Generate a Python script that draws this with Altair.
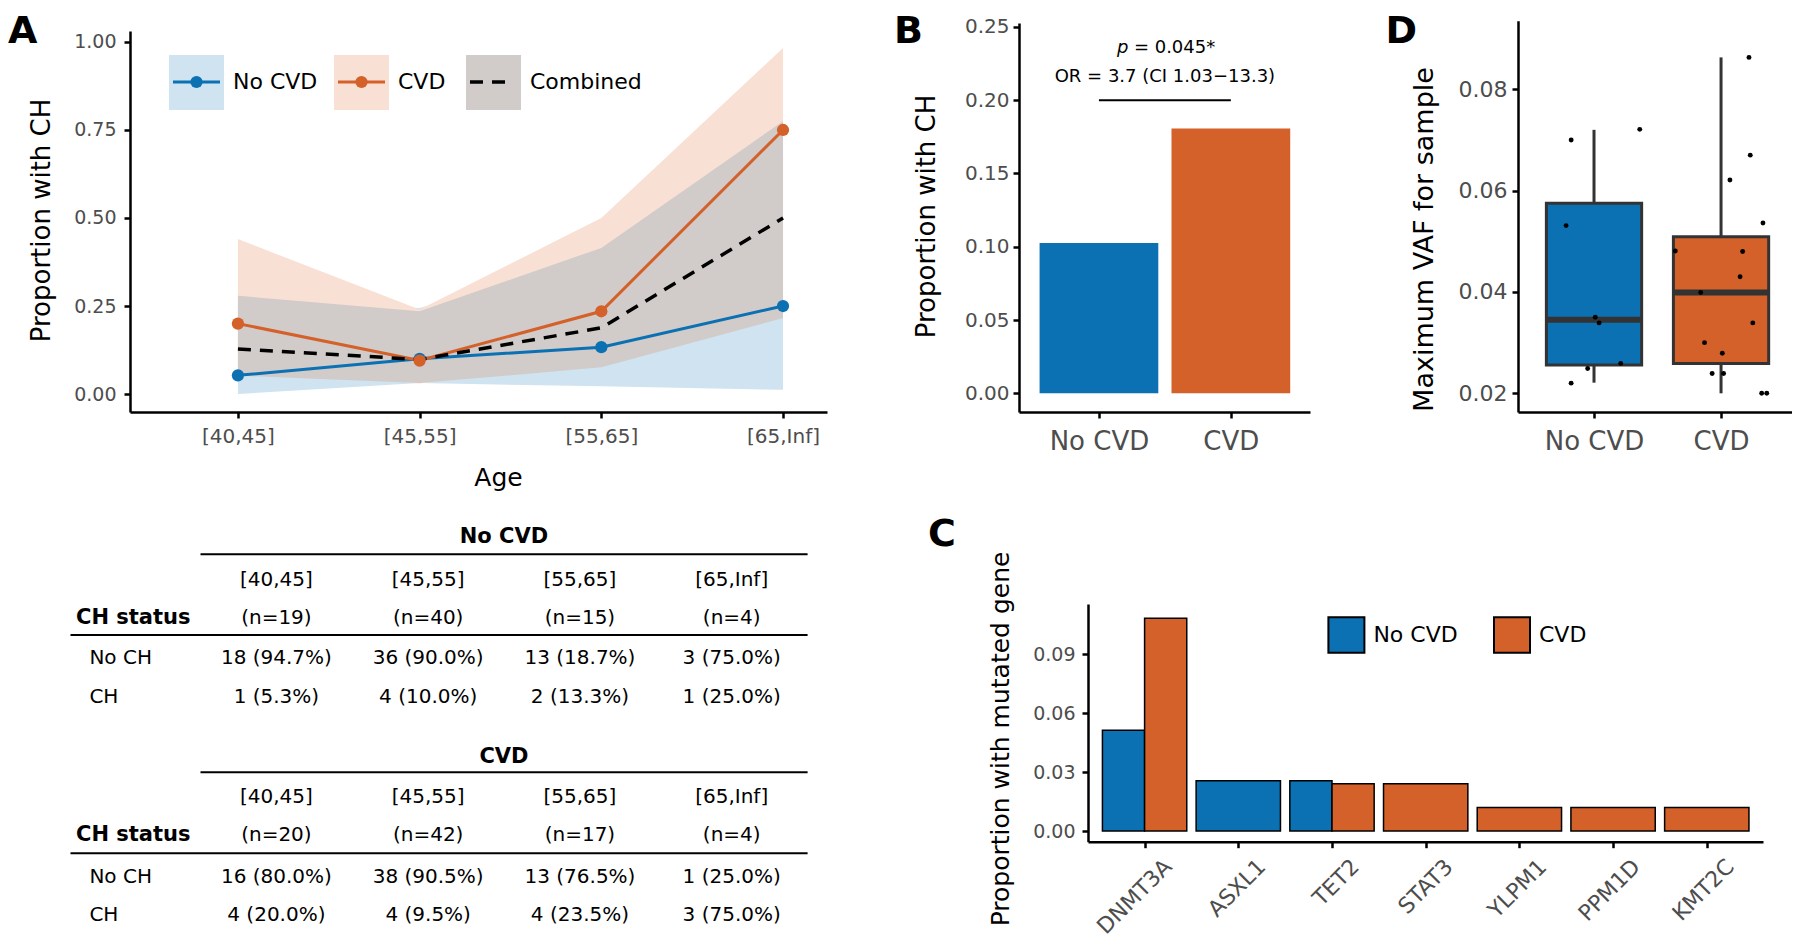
import altair as alt
import pandas as pd

FONT = "DejaVu Sans"
BLUE, ORANGE = "#0b71b3", "#d4602a"
BLUE_L, ORANGE_L, GRAY_L = "#cfe3f0", "#f8e0d4", "#d1cbc9"
DARK = "#333333"
LAB = "#4d4d4d"

# ---------------- data ----------------
groups = ["No CVD", "CVD"]
ages = ["[40,45]", "[45,55]", "[55,65]", "[65,Inf]"]
panel_letters = ["A", "B", "C", "D"]

# Panel A: proportion with CH by age, with confidence ribbons
nocvd_prop = [0.053, 0.100, 0.133, 0.250]
nocvd_lo = [0.000, 0.031, 0.022, 0.012]
nocvd_hi = [0.260, 0.244, 0.380, 0.700]
cvd_prop = [0.200, 0.095, 0.235, 0.750]
cvd_lo = [0.080, 0.030, 0.090, 0.300]
cvd_hi = [0.440, 0.240, 0.500, 0.983]
comb_prop = [0.128, 0.098, 0.188, 0.500]
comb_lo = [0.052, 0.031, 0.076, 0.216]
comb_hi = [0.279, 0.235, 0.415, 0.775]
legend_a = ["No CVD", "CVD", "Combined"]

# Panel B
b_prop = [0.1026, 0.1807]
b_p_text = "= 0.045*"
b_or_text = "OR = 3.7 (CI 1.03\u221213.3)"
b_bracket = 0.20

# Panel D: box stats and points
d_lo = [0.0221, 0.0200]
d_q1 = [0.0256, 0.0259]
d_med = [0.0345, 0.0399]
d_q3 = [0.0575, 0.0509]
d_hi = [0.0720, 0.0863]
nocvd_vaf = [0.0700, 0.0721, 0.0531, 0.0350, 0.0339, 0.0259, 0.0249, 0.0220]
nocvd_jit = [-0.18, 0.36, -0.22, 0.01, 0.04, 0.21, -0.05, -0.18]
cvd_vaf = [0.0863, 0.0670, 0.0621, 0.0536, 0.0481, 0.0480, 0.0430, 0.0399,
           0.0339, 0.0300, 0.0279, 0.0239, 0.0239, 0.0200, 0.0200]
cvd_jit = [0.22, 0.23, 0.07, 0.33, -0.36, 0.17, 0.15, -0.16,
           0.25, -0.13, 0.01, -0.07, 0.02, 0.32, 0.36]

# Panel C
genes = ["DNMT3A", "ASXL1", "TET2", "STAT3", "YLPM1", "PPM1D", "KMT2C"]
c_nocvd = [0.0513, 0.0256, 0.0256, 0.0, 0.0, 0.0, 0.0]
c_cvd = [0.1084, 0.0, 0.0241, 0.0241, 0.0120, 0.0120, 0.0120]

# Tables
nocvd_n = [19, 40, 15, 4]
nocvd_noch = [18, 36, 13, 3]
nocvd_noch_pct = [94.7, 90.0, 18.7, 75.0]
nocvd_ch = [1, 4, 2, 1]
nocvd_ch_pct = [5.3, 10.0, 13.3, 25.0]
cvd_n = [20, 42, 17, 4]
cvd_noch = [16, 38, 13, 1]
cvd_noch_pct = [80.0, 90.5, 76.5, 25.0]
cvd_ch = [4, 4, 4, 3]
cvd_ch_pct = [20.0, 9.5, 23.5, 75.0]
row_labels = ["CH status", "No CH", "CH"]

# ---------------- canvas ----------------
W, H = 1784, 920          # one big view; every panel has its own scales placed by pixel range
one = pd.DataFrame({"k": [0]})


def arr_expr(lst):
    return "[" + ",".join("'" + s + "'" for s in lst) + "][datum.value - 1]"


def letter(t, x, y):
    return alt.Chart(pd.DataFrame({"t": [t]})).mark_text(
        align="left", baseline="top", fontSize=38, fontWeight="bold", color="black"
    ).encode(text="t:N", x=alt.value(x), y=alt.value(y))


def vtext(t, x, y, size, align="left", weight="normal", color="black"):
    return alt.Chart(pd.DataFrame({"t": [t]})).mark_text(
        align=align, baseline="middle", fontSize=size, fontWeight=weight, color=color
    ).encode(text="t:N", x=alt.value(x), y=alt.value(y))


def vrect(x1, x2, y1, y2, **kw):
    return alt.Chart(one).mark_rect(**kw).encode(
        x=alt.value(x1), x2=alt.value(x2), y=alt.value(y1), y2=alt.value(y2))


def vrule(x1, x2, y, **kw):
    return alt.Chart(one).mark_rule(**kw).encode(
        x=alt.value(x1), x2=alt.value(x2), y=alt.value(y))


def xaxis(y_line, **kw):
    base = dict(orient="bottom", offset=y_line - H, labelFlush=False, labelOverlap=False)
    base.update(kw)
    return alt.Axis(**base)


def yaxis(x_line, **kw):
    base = dict(orient="left", offset=-x_line, titleAngle=270, titleAlign="center",
                titleBaseline="middle")
    base.update(kw)
    return alt.Axis(**base)


colorG = alt.Color("group:N", scale=alt.Scale(domain=groups, range=[BLUE, ORANGE]), legend=None)

# ---------------- Panel A ----------------
rows = []
for name, p, lo, hi in [("No CVD", nocvd_prop, nocvd_lo, nocvd_hi),
                        ("CVD", cvd_prop, cvd_lo, cvd_hi),
                        ("Combined", comb_prop, comb_lo, comb_hi)]:
    for i in range(len(ages)):
        rows.append({"series": name, "pos": i + 1, "age": ages[i],
                     "prop": p[i], "lo": lo[i], "hi": hi[i]})
a_df = pd.DataFrame(rows)

xA = alt.X("pos:Q", scale=alt.Scale(domain=[0.406, 4.242], range=[122, 819], nice=False, zero=False),
           axis=xaxis(404, values=[1, 2, 3, 4], labelExpr=arr_expr(ages), title="Age",
                      labelFontSize=20, labelPadding=8, titleFontSize=25,
                      titleX=490, titleY=65, titleAlign="center", titleBaseline="middle"))
ysA = alt.Scale(domain=[-0.0511, 1.0312], range=[404, 23], nice=False, zero=False)
yaA = yaxis(122, values=[0, 0.25, 0.5, 0.75, 1.0], format=".2f", title="Proportion with CH",
            labelFontSize=19, labelPadding=8, titleFontSize=26, titleX=-89, titleY=212)


def sel(n):
    return alt.datum.series == n


a_layers = []
for n, c in [("No CVD", BLUE_L), ("CVD", ORANGE_L), ("Combined", GRAY_L)]:
    a_layers.append(alt.Chart(a_df).transform_filter(sel(n)).mark_area(color=c, opacity=1).encode(
        x=xA, y=alt.Y("lo:Q", scale=ysA, axis=yaA), y2="hi:Q"))
for n, c in [("No CVD", BLUE), ("CVD", ORANGE)]:
    a_layers.append(alt.Chart(a_df).transform_filter(sel(n)).mark_line(color=c, strokeWidth=3).encode(
        x=xA, y=alt.Y("prop:Q", scale=ysA, axis=yaA)))
a_layers.append(alt.Chart(a_df).transform_filter(sel("Combined")).mark_line(
    color="black", strokeWidth=3.5, strokeDash=[13, 9]).encode(
    x=xA, y=alt.Y("prop:Q", scale=ysA, axis=yaA)))
for n, c in [("No CVD", BLUE), ("CVD", ORANGE)]:
    a_layers.append(alt.Chart(a_df).transform_filter(sel(n)).mark_circle(size=150, color=c, opacity=1).encode(
        x=xA, y=alt.Y("prop:Q", scale=ysA, axis=yaA)))
chartA = alt.layer(*a_layers)

# legend of A
leg_layers = []
leg_x = [161, 326, 458]
for i, (lab, fill, col) in enumerate(zip(legend_a, [BLUE_L, ORANGE_L, GRAY_L], [BLUE, ORANGE, "black"])):
    x0 = leg_x[i]
    leg_layers.append(vrect(x0, x0 + 55, 47, 102, color=fill))
    if i < 2:
        leg_layers.append(vrule(x0 + 4, x0 + 51, 74, color=col, strokeWidth=3))
        leg_layers.append(alt.Chart(one).mark_circle(size=150, color=col, opacity=1).encode(
            x=alt.value(x0 + 27.5), y=alt.value(74)))
    else:
        leg_layers.append(vrule(x0 + 4, x0 + 48, 74, color=col, strokeWidth=3.5, strokeDash=[13, 9]))
    leg_layers.append(vtext(lab, x0 + 64, 74, 22))

# ---------------- Panel B ----------------
b_df = pd.DataFrame({"group": groups, "pos": [1, 2], "prop": b_prop})
xsB = alt.Scale(domain=[0.394, 2.6], range=[1011, 1302], nice=False, zero=False)
xaB = xaxis(404, values=[1, 2], labelExpr=arr_expr(groups), title=None, labelFontSize=26, labelPadding=10)
ysB = alt.Scale(domain=[-0.01276, 0.2527], range=[404, 15], nice=False, zero=False)
yaB = yaxis(1011, values=[0, 0.05, 0.1, 0.15, 0.2, 0.25], format=".2f", title="Proportion with CH",
            labelFontSize=20, labelPadding=4, titleFontSize=26, titleX=-93, titleY=208)

barsB = alt.Chart(b_df).transform_calculate(
    xa="datum.pos - 0.45", xb="datum.pos + 0.45", base="0").mark_rect().encode(
    x=alt.X("xa:Q", scale=xsB, axis=xaB), x2="xb:Q",
    y=alt.Y("prop:Q", scale=ysB, axis=yaB), y2="base:Q", color=colorG)
br_df = pd.DataFrame({"xa": [min(b_df.pos)], "xb": [max(b_df.pos)], "y": [b_bracket]})
bracket = alt.Chart(br_df).mark_rule(color="black", strokeWidth=2).encode(
    x=alt.X("xa:Q", scale=xsB, axis=xaB), x2="xb:Q", y=alt.Y("y:Q", scale=ysB, axis=yaB))
mid_df = pd.DataFrame({"xa": [b_df.pos.mean()], "p": ["p"], "rest": [b_p_text], "orr": [b_or_text]})
pT = alt.Chart(mid_df).mark_text(fontStyle="italic", align="left", baseline="middle", fontSize=18,
                                 dx=-48, color="black").encode(
    x=alt.X("xa:Q", scale=xsB, axis=xaB), y=alt.value(40), text="p:N")
restT = alt.Chart(mid_df).mark_text(align="left", baseline="middle", fontSize=18, dx=-31,
                                    color="black").encode(
    x=alt.X("xa:Q", scale=xsB, axis=xaB), y=alt.value(40), text="rest:N")
orT = alt.Chart(mid_df).mark_text(align="center", baseline="middle", fontSize=18, color="black").encode(
    x=alt.X("xa:Q", scale=xsB, axis=xaB), y=alt.value(69), text="orr:N")
chartB = alt.layer(barsB, bracket, pT, restT, orT)

# ---------------- Panel D ----------------
xsD = alt.Scale(domain=[0.4016, 2.598], range=[1510, 1789], nice=False, zero=False)
xaD = xaxis(404, values=[1, 2], labelExpr=arr_expr(groups), title=None, labelFontSize=26, labelPadding=10)
ysD = alt.Scale(domain=[0.01631, 0.09354], range=[404, 12.7], nice=False, zero=False)
yaD = yaxis(1510, values=[0.02, 0.04, 0.06, 0.08], format=".2f", title="Maximum VAF for sample",
            labelFontSize=22, labelPadding=5, titleFontSize=27, titleX=-94, titleY=231)
box_df = pd.DataFrame({"group": groups, "pos": [1, 2], "lo": d_lo, "q1": d_q1,
                       "med": d_med, "q3": d_q3, "hi": d_hi})
whHi = alt.Chart(box_df).mark_rule(color=DARK, strokeWidth=3).encode(
    x=alt.X("pos:Q", scale=xsD, axis=xaD), y=alt.Y("q3:Q", scale=ysD, axis=yaD), y2="hi:Q")
whLo = alt.Chart(box_df).mark_rule(color=DARK, strokeWidth=3).encode(
    x=alt.X("pos:Q", scale=xsD, axis=xaD), y=alt.Y("lo:Q", scale=ysD, axis=yaD), y2="q1:Q")
boxD = alt.Chart(box_df).transform_calculate(xa="datum.pos - 0.375", xb="datum.pos + 0.375").mark_rect(
    stroke=DARK, strokeWidth=3).encode(
    x=alt.X("xa:Q", scale=xsD, axis=xaD), x2="xb:Q",
    y=alt.Y("q1:Q", scale=ysD, axis=yaD), y2="q3:Q", color=colorG)
medD = alt.Chart(box_df).transform_calculate(xa="datum.pos - 0.375", xb="datum.pos + 0.375").mark_rule(
    color=DARK, strokeWidth=6).encode(
    x=alt.X("xa:Q", scale=xsD, axis=xaD), x2="xb:Q", y=alt.Y("med:Q", scale=ysD, axis=yaD))
pts_df = pd.DataFrame({
    "group": [groups[0]] * len(nocvd_vaf) + [groups[1]] * len(cvd_vaf),
    "pos": [1] * len(nocvd_vaf) + [2] * len(cvd_vaf),
    "jit": nocvd_jit + cvd_jit,
    "vaf": nocvd_vaf + cvd_vaf})
ptsD = alt.Chart(pts_df).transform_calculate(xp="datum.pos + datum.jit").mark_circle(
    size=24, color="black", opacity=1).encode(
    x=alt.X("xp:Q", scale=xsD, axis=xaD), y=alt.Y("vaf:Q", scale=ysD, axis=yaD))
chartD = alt.layer(whHi, whLo, boxD, medD, ptsD)

# ---------------- Panel C ----------------
rows = []
for i, g in enumerate(genes):
    vals = [(grp, v) for grp, v in zip(groups, [c_nocvd[i], c_cvd[i]]) if v > 0]
    for k, (grp, v) in enumerate(vals):
        rows.append({"gene": g, "group": grp, "pos": i + 1, "k": k, "n": len(vals), "prop": v})
c_df = pd.DataFrame(rows)
xsC = alt.Scale(domain=[0.396, 7.6], range=[1080, 1755], nice=False, zero=False)
xaC = xaxis(833.7, values=list(range(1, len(genes) + 1)), labelExpr=arr_expr(genes), title=None,
            labelFontSize=22, labelAngle=315, labelAlign="right", labelBaseline="top",
            labelPadding=8, labelOffset=16)
ysC = alt.Scale(domain=[-0.00545, 0.11564], range=[833.7, 596], nice=False, zero=False)
yaC = yaxis(1080, values=[0, 0.03, 0.06, 0.09], format=".2f", title="Proportion with mutated gene",
            labelFontSize=19, labelPadding=7, titleFontSize=25, titleX=-88, titleY=730.5)
barsC = alt.Chart(c_df).transform_calculate(
    xa="datum.pos - 0.45 + datum.k * 0.9 / datum.n",
    xb="datum.pos - 0.45 + (datum.k + 1) * 0.9 / datum.n", base="0").mark_rect(
    stroke="black", strokeWidth=1.5).encode(
    x=alt.X("xa:Q", scale=xsC, axis=xaC), x2="xb:Q",
    y=alt.Y("prop:Q", scale=ysC, axis=yaC), y2="base:Q", color=colorG)
chartC = barsC
c_leg = []
for x0, grp, col in [(1320.4, groups[0], BLUE), (1486, groups[1], ORANGE)]:
    c_leg.append(vrect(x0, x0 + 36, 609.3, 644.7, color=col, stroke="black", strokeWidth=2))
    c_leg.append(vtext(grp, x0 + 45, 627, 22))

# ---------------- Tables ----------------
trows = []
for name, n, noch, nochp, ch, chp in [
        (groups[0], nocvd_n, nocvd_noch, nocvd_noch_pct, nocvd_ch, nocvd_ch_pct),
        (groups[1], cvd_n, cvd_noch, cvd_noch_pct, cvd_ch, cvd_ch_pct)]:
    for c in range(len(ages)):
        trows.append({"tbl": name, "col": c + 1, "age": ages[c], "n": f"(n={n[c]})",
                      "noch": f"{noch[c]} ({nochp[c]:.1f}%)", "ch": f"{ch[c]} ({chp[c]:.1f}%)"})
t_df = pd.DataFrame(trows)
xT = alt.X("col:Q", scale=alt.Scale(domain=[1, 4], range=[268.4, 723.7], nice=False, zero=False), axis=None)
tpos = {groups[0]: dict(title=528.7, line1=546.3, h1=572, h2=610, line2=627, r1=650.3, r2=688.7),
        groups[1]: dict(title=748.7, line1=764.3, h1=788.7, h2=827, line2=845.3, r1=868.7, r2=907)}
t_cells = []
t_static = []
for name in groups:
    p = tpos[name]
    t_static.append(vtext(name, 496, p["title"], 21, align="center", weight="bold"))
    t_static.append(vrule(192.5, 799.6, p["line1"], color="black", strokeWidth=2))
    t_static.append(vrule(62.5, 799.6, p["line2"], color="black", strokeWidth=2))
    t_static.append(vtext(row_labels[0], 68, p["h2"], 21, weight="bold"))
    t_static.append(vtext(row_labels[1], 81.4, p["r1"], 20))
    t_static.append(vtext(row_labels[2], 81.4, p["r2"], 20))
    for fld, key in [("age", "h1"), ("n", "h2"), ("noch", "r1"), ("ch", "r2")]:
        t_cells.append(alt.Chart(t_df).transform_filter(alt.datum.tbl == name).mark_text(
            fontSize=20, baseline="middle", align="center", color="black").encode(
            x=xT, y=alt.value(p[key]), text=f"{fld}:N"))
chartT = alt.layer(*t_cells)

letters = [letter(panel_letters[0], 0, 5), letter(panel_letters[1], 886, 5),
           letter(panel_letters[2], 920, 507.7), letter(panel_letters[3], 1377.5, 5)]

# ---------------- assemble ----------------
chart = alt.layer(chartA, chartB, chartD, chartC, chartT, *leg_layers, *c_leg, *t_static, *letters).resolve_scale(
    x="independent", y="independent").resolve_axis(x="independent", y="independent").properties(
    width=W, height=H, padding=0).configure(font=FONT).configure_view(stroke=None).configure_axis(
    grid=False, domainColor="black", domainWidth=2.5, tickColor="black", tickWidth=2.5,
    tickSize=6, labelColor=LAB, titleColor="black", titleFontWeight="normal",
    labelFont=FONT, titleFont=FONT)

chart.save("out.html", embed_options={"renderer": "svg", "actions": False})
